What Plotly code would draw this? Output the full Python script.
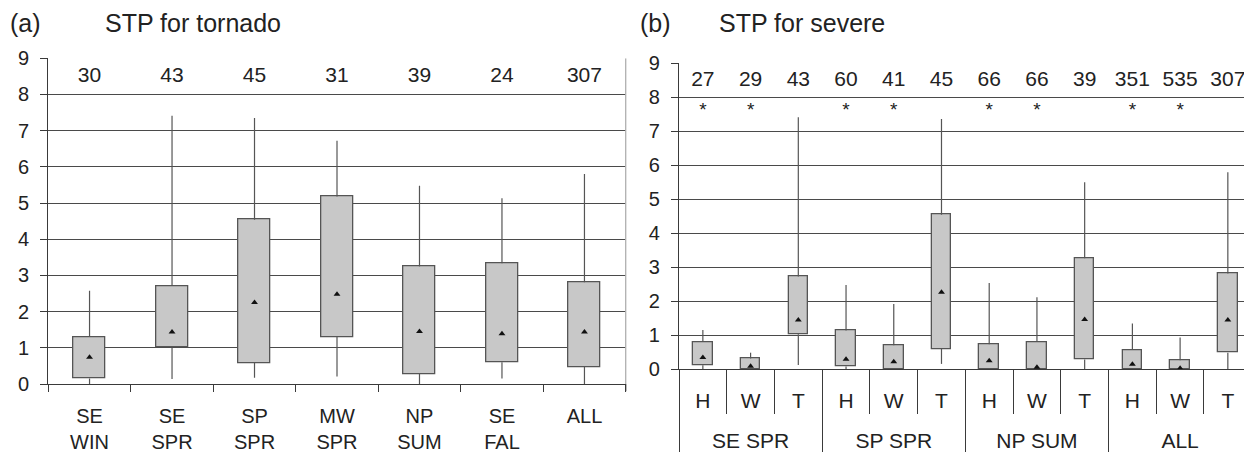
import plotly.graph_objects as go

# ---------------- data ----------------
# Panel (a): STP for tornado
cats_a = ["SE<br>WIN", "SE<br>SPR", "SP<br>SPR", "MW<br>SPR", "NP<br>SUM", "SE<br>FAL", "ALL"]
n_a = ["30", "43", "45", "31", "39", "24", "307"]
low_a = [0.0, 0.14, 0.17, 0.21, 0.0, 0.15, 0.0]
q1_a = [0.15, 1.01, 0.58, 1.30, 0.28, 0.60, 0.47]
q3_a = [1.30, 2.71, 4.54, 5.18, 3.25, 3.34, 2.81]
high_a = [2.58, 7.41, 7.35, 6.72, 5.48, 5.13, 5.80]
mean_a = [0.74, 1.44, 2.25, 2.48, 1.45, 1.39, 1.44]

# Panel (b): STP for severe
groups_b = ["SE SPR", "SP SPR", "NP SUM", "ALL"]
subs_b = ["H", "W", "T"]
n_b = ["27", "29", "43", "60", "41", "45", "66", "66", "39", "351", "535", "307"]
stars_b = ["*", "*", "", "*", "*", "", "*", "*", "", "*", "*", ""]
low_b = [0.0, 0.0, 0.12, 0.0, 0.0, 0.15, 0.0, 0.0, 0.0, 0.0, 0.0, 0.0]
q1_b = [0.11, 0.0, 1.02, 0.07, 0.0, 0.59, 0.0, 0.0, 0.28, 0.0, 0.0, 0.48]
q3_b = [0.80, 0.31, 2.72, 1.13, 0.70, 4.54, 0.73, 0.80, 3.26, 0.56, 0.26, 2.81]
high_b = [1.15, 0.48, 7.41, 2.47, 1.91, 7.36, 2.53, 2.11, 5.50, 1.34, 0.93, 5.79]
mean_b = [0.34, 0.08, 1.44, 0.29, 0.21, 2.26, 0.24, 0.05, 1.46, 0.14, 0.02, 1.44]

y_ticks = list(range(10))

# ---------------- styling ----------------
FONT = "Liberation Sans, Arial, sans-serif"
TXT = "#222222"
EDGE = "#555555"
GRID = "#4a4a4a"
AXIS = "#3a3a3a"
FILL = "#c8c8c8"
COUNT_Y = 8.5
STAR_Y = 7.58
W, H = 1252, 452
OFF = 8  # page body margin


def px(xp):
    return (xp - OFF) / W


def py(yp):
    return 1 - (yp - OFF) / H


cats_b = [f"{g} {s}" for g in groups_b for s in subs_b]
ticktext_b = [s for g in groups_b for s in subs_b]

fig = go.Figure()


def add_panel(cats, low, q1, q3, high, mean, counts, xa, ya, width):
    fig.add_trace(go.Bar(
        x=cats, y=[b - a for a, b in zip(q1, q3)], base=q1, width=width,
        marker=dict(color=FILL, line=dict(color=EDGE, width=1.3)),
        xaxis=xa, yaxis=ya, hoverinfo="skip"))
    wx, wy = [], []
    for c, lo, a, b, hi in zip(cats, low, q1, q3, high):
        wx += [c, c, None, c, c, None]
        wy += [lo, a, None, b, hi, None]
    fig.add_trace(go.Scatter(
        x=wx, y=wy, mode="lines", line=dict(color=EDGE, width=1.2),
        xaxis=xa, yaxis=ya, hoverinfo="skip", connectgaps=False))
    fig.add_trace(go.Scatter(
        x=cats, y=mean, mode="markers",
        marker=dict(symbol="triangle-up", size=6, color="#111111"),
        xaxis=xa, yaxis=ya, hoverinfo="skip"))
    fig.add_trace(go.Scatter(
        x=cats, y=[COUNT_Y] * len(cats), mode="text", text=counts,
        textfont=dict(family=FONT, size=21, color=TXT),
        xaxis=xa, yaxis=ya, hoverinfo="skip"))


add_panel(cats_a, low_a, q1_a, q3_a, high_a, mean_a, n_a, "x", "y", 0.39)
add_panel(cats_b, low_b, q1_b, q3_b, high_b, mean_b, n_b, "x2", "y2", 0.41)

fig.add_trace(go.Scatter(
    x=cats_b, y=[STAR_Y] * len(cats_b), mode="text", text=stars_b,
    textfont=dict(family=FONT, size=19, color=TXT),
    xaxis="x2", yaxis="y2", hoverinfo="skip"))

# invisible trace to define the group-level axis
fig.add_trace(go.Scatter(
    x=groups_b, y=[0] * len(groups_b), mode="markers",
    marker=dict(size=1, color="rgba(0,0,0,0)"),
    xaxis="x3", yaxis="y2", hoverinfo="skip"))

yaxis_common = dict(
    range=[0, 9], tickvals=y_ticks, showgrid=True, gridcolor=GRID, gridwidth=1,
    showline=True, linecolor=AXIS, linewidth=1.3,
    ticks="outside", ticklen=7, tickcolor=AXIS, ticklabelstandoff=7,
    tickfont=dict(family=FONT, size=20, color=TXT), zeroline=False,
    automargin=False, fixedrange=True)

fig.update_layout(
    width=W, height=H,
    margin=dict(l=0, r=0, t=0, b=0, autoexpand=False),
    paper_bgcolor="white", plot_bgcolor="white",
    showlegend=False, bargap=0,
    font=dict(family=FONT, color=TXT),
    xaxis=dict(
        domain=[px(48.3), px(625.7)], anchor="y", type="category",
        categoryorder="array", categoryarray=cats_a, range=[-0.5, len(cats_a) - 0.5],
        showline=True, linecolor=AXIS, linewidth=1.3,
        ticks="outside", tickson="boundaries", ticklen=7, tickcolor=AXIS,
        ticklabelstandoff=14, automargin=False,
        tickfont=dict(family=FONT, size=20, color=TXT), showgrid=False),
    yaxis=dict(domain=[py(384), py(58.3)], anchor="x", **yaxis_common),
    xaxis2=dict(
        domain=[px(679), px(1251.7)], anchor="y2", type="category",
        categoryorder="array", categoryarray=cats_b, range=[-0.5, len(cats_b) - 0.5],
        tickvals=cats_b, ticktext=ticktext_b,
        showline=True, linecolor=AXIS, linewidth=1.3,
        ticks="outside", tickson="boundaries", ticklen=44, tickcolor=AXIS,
        ticklabelstandoff=13, automargin=False,
        tickfont=dict(family=FONT, size=21, color=TXT), showgrid=False),
    xaxis3=dict(
        overlaying="x2", anchor="y2", side="bottom", type="category",
        categoryorder="array", categoryarray=groups_b, range=[-0.5, len(groups_b) - 0.5],
        showline=False, ticks="outside", tickson="boundaries", ticklen=95,
        tickcolor=AXIS, ticklabelstandoff=57, automargin=False,
        tickfont=dict(family=FONT, size=21, color=TXT), showgrid=False),
    yaxis2=dict(domain=[py(369), py(63.3)], anchor="x2", **yaxis_common),
)

# light right border of panel (a)
fig.add_shape(type="line", xref="x domain", yref="y", x0=1, x1=1, y0=0, y1=9,
              line=dict(color="#b0b0b0", width=1.3))
fig.add_shape(type="line", xref="x domain", yref="y domain", x0=1, x1=1, y0=0, y1=-0.022,
              line=dict(color=AXIS, width=1.3))

# titles
for xpx, txt in [(8, "(a)"), (103, "STP for tornado"), (638, "(b)"), (717, "STP for severe")]:
    fig.add_annotation(x=px(xpx), y=py(23), xref="paper", yref="paper",
                       text=txt, showarrow=False, xanchor="left", yanchor="middle",
                       font=dict(family=FONT, size=25, color=TXT))

fig.write_html("out.html")
